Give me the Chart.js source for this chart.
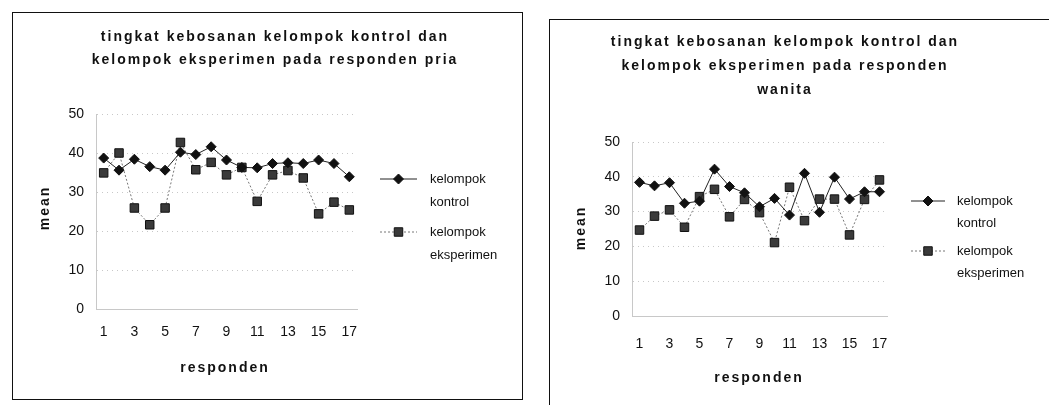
<!DOCTYPE html>
<html>
<head>
<meta charset="utf-8">
<script src="https://cdn.jsdelivr.net/npm/chart.js@4/dist/chart.umd.min.js"></script>
<style>
  html, body { margin: 0; padding: 0; background: #fff; overflow: hidden; }
  body { width: 1049px; height: 405px; position: relative; }
  .box { position: absolute; border: 1.5px solid #111; box-sizing: border-box; }
  #boxPria { left: 12px; top: 12px; width: 511px; height: 388px; }
  #boxWanita { left: 549px; top: 19px; width: 520px; height: 400px; }
  canvas { position: absolute; left: 0; top: 0; }
</style>
</head>
<body>
<div class="box" id="boxPria"><canvas id="chartPria" width="508" height="385"></canvas></div>
<div class="box" id="boxWanita"><canvas id="chartWanita" width="498" height="385"></canvas></div>
<script>
// data
const responden = ["1", "2", "3", "4", "5", "6", "7", "8", "9", "10", "11", "12", "13", "14", "15", "16", "17"];
const yTicks = [0, 10, 20, 30, 40, 50];

const priaKontrol = [38.7, 35.6, 38.4, 36.5, 35.6, 40.2, 39.6, 41.6, 38.2, 36.3, 36.2, 37.3, 37.5, 37.3, 38.2, 37.3, 33.9];
const priaEksperimen = [34.9, 40.0, 25.9, 21.6, 25.9, 42.7, 35.7, 37.6, 34.4, 36.3, 27.6, 34.4, 35.5, 33.6, 24.4, 27.4, 25.4];

const wanitaKontrol = [38.4, 37.4, 38.3, 32.4, 33.0, 42.2, 37.2, 35.4, 31.4, 33.8, 29.0, 41.0, 29.8, 39.9, 33.6, 35.7, 35.7];
const wanitaEksperimen = [24.7, 28.7, 30.5, 25.5, 34.3, 36.4, 28.5, 33.5, 29.7, 21.1, 37.0, 27.4, 33.6, 33.6, 23.3, 33.5, 39.1];

const judulPria = ["tingkat kebosanan kelompok kontrol dan", "kelompok eksperimen pada responden pria"];
const judulWanita = ["tingkat kebosanan kelompok kontrol dan", "kelompok eksperimen pada responden", "wanita"];
const labelKontrol = ["kelompok", "kontrol"];
const labelEksperimen = ["kelompok", "eksperimen"];

const FONT = "'Liberation Sans', Arial, sans-serif";

// plugin untuk judul, judul sumbu dan legenda
const teksPlugin = {
  id: "teks",
  afterDraw(chart, args, opt) {
    const ctx = chart.ctx;
    ctx.save();
    ctx.fillStyle = "#111";
    ctx.textAlign = "center";
    ctx.textBaseline = "middle";
    ctx.font = "bold 14px " + FONT;
    ctx.letterSpacing = "2px";
    opt.title.forEach((t, i) => ctx.fillText(t, opt.titleX, opt.titleY + i * opt.titleGap));
    ctx.fillText("responden", opt.xTitle[0], opt.xTitle[1]);
    ctx.save();
    ctx.translate(opt.yTitle[0], opt.yTitle[1]);
    ctx.rotate(-Math.PI / 2);
    ctx.fillText("mean", 0, 0);
    ctx.restore();

    // legenda
    ctx.letterSpacing = "0px";
    ctx.font = "13px " + FONT;
    ctx.textAlign = "left";
    chart.data.datasets.forEach((ds, i) => {
      const y = opt.legendY[i];
      ctx.save();
      ctx.strokeStyle = ds.borderColor;
      ctx.lineWidth = 1;
      ctx.setLineDash(ds.borderDash || []);
      ctx.beginPath();
      ctx.moveTo(opt.legendLine[0], y);
      ctx.lineTo(opt.legendLine[1], y);
      ctx.stroke();
      ctx.restore();
      const mx = (opt.legendLine[0] + opt.legendLine[1]) / 2;
      ctx.fillStyle = ds.pointBackgroundColor;
      ctx.strokeStyle = ds.pointBorderColor;
      ctx.beginPath();
      if (ds.pointStyle === "rectRot") {
        const r = ds.pointRadius;
        ctx.moveTo(mx, y - r); ctx.lineTo(mx + r, y); ctx.lineTo(mx, y + r); ctx.lineTo(mx - r, y); ctx.closePath();
      } else {
        const s = ds.pointRadius * Math.SQRT1_2;
        ctx.rect(mx - s, y - s, 2 * s, 2 * s);
      }
      ctx.fill();
      ctx.stroke();
      ctx.fillStyle = "#111";
      ds.label.forEach((t, j) => ctx.fillText(t, opt.legendTextX, y + j * opt.legendGap));
    });
    ctx.restore();
  }
};

function buatChart(id, kontrol, eksperimen, pad, tickPadX, teks) {
  return new Chart(document.getElementById(id), {
    type: "line",
    data: {
      labels: responden,
      datasets: [
        {
          label: labelKontrol,
          data: kontrol,
          borderColor: "#222",
          borderWidth: 1,
          pointStyle: "rectRot",
          pointRadius: 5,
          pointBackgroundColor: "#111",
          pointBorderColor: "#111",
          pointBorderWidth: 1,
          tension: 0,
        },
        {
          label: labelEksperimen,
          data: eksperimen,
          borderColor: "#777",
          borderWidth: 1,
          borderDash: [2, 2],
          pointStyle: "rect",
          pointRadius: 6,
          pointBackgroundColor: "#3a3a3a",
          pointBorderColor: "#111",
          pointBorderWidth: 1,
          tension: 0,
        },
      ],
    },
    options: {
      responsive: false,
      animation: false,
      layout: { padding: pad },
      plugins: {
        legend: { display: false },
        title: { display: false },
        tooltip: { enabled: false },
        teks: teks,
      },
      scales: {
        x: {
          offset: true,
          grid: { display: false, drawTicks: false },
          border: { display: true, color: "#c8c8c8", dash: [2, 4] },
          ticks: {
            autoSkip: false,
            maxRotation: 0,
            padding: tickPadX,
            color: "#111",
            font: { family: FONT, size: 14 },
            callback: function (v, i) { return i % 2 === 0 ? responden[i] : ""; },
          },
          afterFit: (s) => { s.height = 40; },
        },
        y: {
          min: 0,
          max: 50,
          afterBuildTicks: (s) => { s.ticks = yTicks.map((v) => ({ value: v })); },
          grid: { color: "#c8c8c8", drawTicks: false },
          border: { display: true, color: "#c8c8c8", dash: [1, 4] },
          ticks: { padding: 12, color: "#111", font: { family: FONT, size: 14 } },
          afterFit: (s) => { s.width = 40; },
        },
      },
    },
    plugins: [teksPlugin],
  });
}

const chartPria = buatChart("chartPria", priaKontrol, priaEksperimen,
  { left: 43, top: 101, right: 164, bottom: 49 }, 15,
  {
    title: judulPria, titleX: 262, titleY: 24, titleGap: 23,
    xTitle: [212, 355], yTitle: [32, 195],
    legendLine: [367, 404], legendTextX: 417, legendY: [166, 219], legendGap: 23,
  });

const chartWanita = buatChart("chartWanita", wanitaKontrol, wanitaEksperimen,
  { left: 42, top: 122, right: 161, bottom: 49 }, 20,
  {
    title: judulWanita, titleX: 235, titleY: 22, titleGap: 24,
    xTitle: [209, 358], yTitle: [31, 208],
    legendLine: [361, 395], legendTextX: 407, legendY: [181, 231], legendGap: 22,
  });
</script>
</body>
</html>
